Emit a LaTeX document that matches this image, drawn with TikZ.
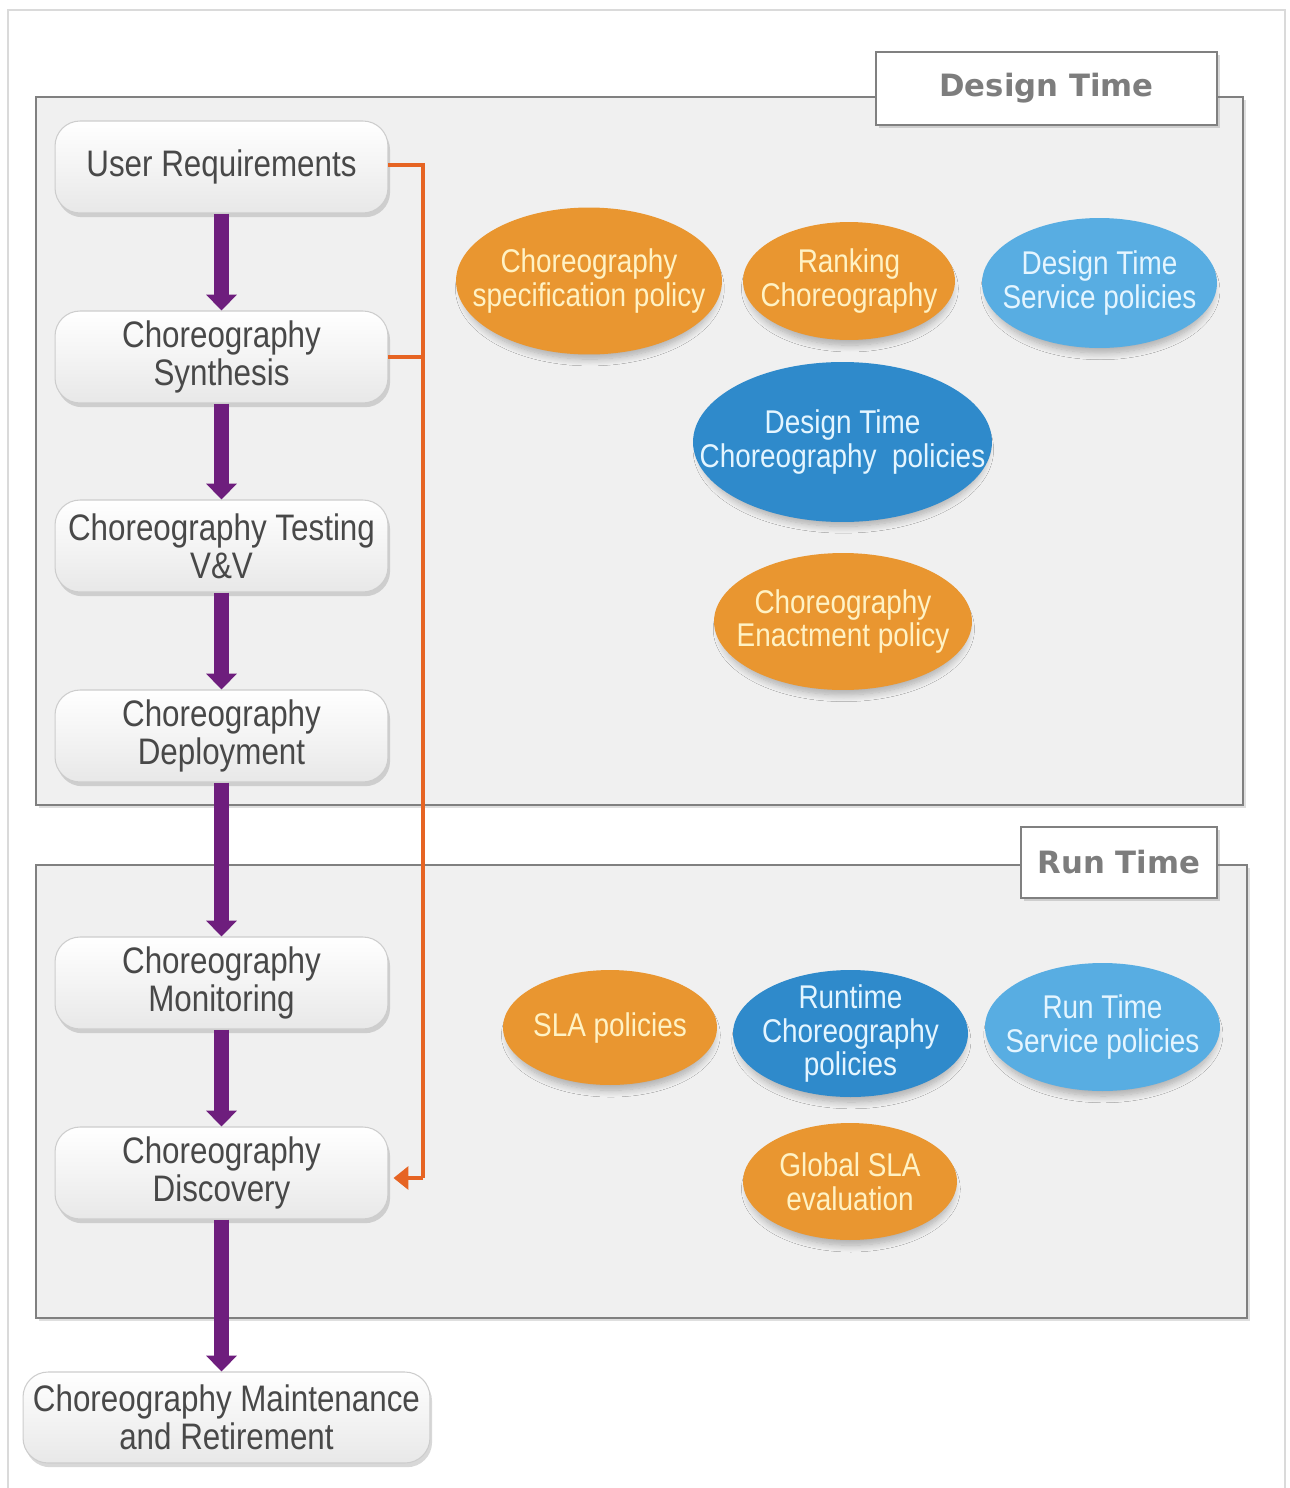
\documentclass[tikz,border=0pt]{standalone}
\usepackage{fontspec}
\setmainfont{Liberation Sans}
\newfontfamily\boxfont[FakeStretch=0.85]{Liberation Sans}
\newfontfamily\tagfont{DejaVu Sans}
\usetikzlibrary{shapes.geometric,arrows.meta,shadows,shadows.blur}

\definecolor{panelfill}{RGB}{240,240,240}
\definecolor{panelline}{RGB}{128,128,128}
\definecolor{framecol}{RGB}{218,218,218}
\definecolor{boxtext}{RGB}{72,72,72}
\definecolor{boxline}{RGB}{205,205,205}
\definecolor{boxbottom}{RGB}{232,232,232}
\definecolor{tagtext}{RGB}{125,125,125}
\definecolor{flowpurple}{RGB}{110,30,125}
\definecolor{feedorange}{RGB}{230,100,35}
\definecolor{polorange}{RGB}{233,150,48}
\definecolor{polblue}{RGB}{47,138,203}
\definecolor{pollight}{RGB}{88,173,226}
\definecolor{warmtext}{RGB}{255,242,196}
\definecolor{cooltext}{RGB}{228,245,255}

\begin{document}
\begin{tikzpicture}[x=0.02cm,y=-0.02cm,
  panel/.style={draw=panelline,line width=1.1pt,fill=panelfill,
    drop shadow={shadow xshift=1.5pt,shadow yshift=-1.5pt,opacity=0.25}},
  tag/.style={draw=panelline,line width=0.9pt,fill=white,inner sep=0pt,
    font=\tagfont\bfseries\fontsize{17.5}{18}\selectfont,text=tagtext,
    drop shadow={shadow xshift=1.5pt,shadow yshift=-1.8pt,opacity=0.3}},
  stage/.style={rounded corners=0.5cm,draw=boxline,line width=0.6pt,
    top color=white,bottom color=boxbottom,inner sep=0pt,
    minimum width=6.66cm,minimum height=1.84cm,align=center,
    font=\boxfont\fontsize{21}{21.5}\selectfont,text=boxtext,
    drop shadow={shadow xshift=1.2pt,shadow yshift=-2.4pt,opacity=0.3}},
  policy/.style={ellipse,inner sep=0pt,fill=#1,
    blur shadow={shadow xshift=0.5pt,shadow yshift=-4.5pt,shadow scale=0.96,
      shadow opacity=28,shadow blur radius=4pt,shadow blur steps=10}},
  warm/.style={align=center,text=warmtext,font=\boxfont\fontsize{18.7}{19.3}\selectfont},
  cool/.style={align=center,text=cooltext,font=\boxfont\fontsize{18.7}{19.3}\selectfont},
  flow/.style={draw=flowpurple,line width=9pt,-{Triangle[width=17pt,length=9pt]}},
  feed/.style={draw=feedorange,line width=2.3pt},
]
\useasboundingbox (0,0) rectangle (1290,1488);
\fill[white] (0,0) rectangle (1290,1488);

% outer frame
\draw[framecol,line width=0.9pt] (8,1488) -- (8,10) -- (1285,10) -- (1285,1488);

% phase panels
\draw[panel] (36,97) rectangle (1243,805);
\draw[panel] (36,865) rectangle (1247,1318);
\node[tag,minimum width=6.82cm,minimum height=1.46cm] (dtag) at (1046.5,88.5) {Design Time};
\node[tag,minimum width=3.92cm,minimum height=1.42cm] (rtag) at (1119,862.5) {Run Time};

% lifecycle stages
\node[stage] (req)   at (221.5,167) {User Requirements};
\node[stage] (synth) at (221.5,357) {Choreography\\Synthesis};
\node[stage] (test)  at (221.5,546) {Choreography Testing\\V\&V};
\node[stage] (dep)   at (221.5,736) {Choreography\\Deployment};
\node[stage] (mon)   at (221.5,983) {Choreography\\Monitoring};
\node[stage] (disc)  at (221.5,1173) {Choreography\\Discovery};
\node[stage,minimum width=8.14cm,minimum height=1.82cm] (maint) at (226.5,1417.5)
  {Choreography Maintenance\\and Retirement};

% main flow
\draw[flow] (req.south) -- (synth.north);
\draw[flow] (synth.south) -- (test.north);
\draw[flow] (test.south) -- (dep.north);
\draw[flow] (dep.south) -- (mon.north);
\draw[flow] (mon.south) -- (disc.north);
\draw[flow] (disc.south) -- (disc.south |- maint.north);

% feedback from requirements and synthesis to discovery
\coordinate (bus top) at (423,165);
\coordinate (bus mid) at (423,357);
\coordinate (bus end) at (423,1178);
\draw[feed] (req.east |- bus top) -- (bus top) -- (bus end);
\draw[feed] (synth.east) -- (bus mid);
\draw[feed,-{Triangle[width=13pt,length=8.5pt]}] (bus end) -- ([xshift=0.1cm]disc.east |- bus end);

% design time policies
\node[policy=polorange,minimum width=5.32cm,minimum height=2.94cm] (spec) at (589,281) {};
\node[warm] at (spec) {Choreography\\specification policy};
\node[policy=polorange,minimum width=4.24cm,minimum height=2.36cm] (rank) at (849,281) {};
\node[warm] at (rank) {Ranking\\Choreography};
\node[policy=pollight,minimum width=4.70cm,minimum height=2.60cm] (dtsp) at (1099.5,283) {};
\node[cool] at (dtsp) {Design Time\\Service policies};
\node[policy=polblue,minimum width=5.98cm,minimum height=3.20cm] (dtcp) at (842.5,442) {};
\node[cool] at (dtcp) {Design Time\\Choreography~ policies};
\node[policy=polorange,minimum width=5.16cm,minimum height=2.74cm] (enact) at (843,621.5) {};
\node[warm] at (enact) {Choreography\\Enactment policy};

% run time policies
\node[policy=polorange,minimum width=4.28cm,minimum height=2.30cm] (sla) at (610,1027.5) {};
\node[warm] at (sla) {SLA policies};
\node[policy=polblue,minimum width=4.70cm,minimum height=2.54cm] (rtcp) at (850.5,1033.5) {};
\node[cool] at (rtcp) {Runtime\\Choreography\\policies};
\node[policy=pollight,minimum width=4.70cm,minimum height=2.56cm] (rtsp) at (1102.5,1027) {};
\node[cool] at (rtsp) {Run Time\\Service policies};
\node[policy=polorange,minimum width=4.28cm,minimum height=2.34cm] (gsla) at (850,1181.5) {};
\node[warm] at (gsla) {Global SLA\\evaluation};
\end{tikzpicture}
\end{document}
